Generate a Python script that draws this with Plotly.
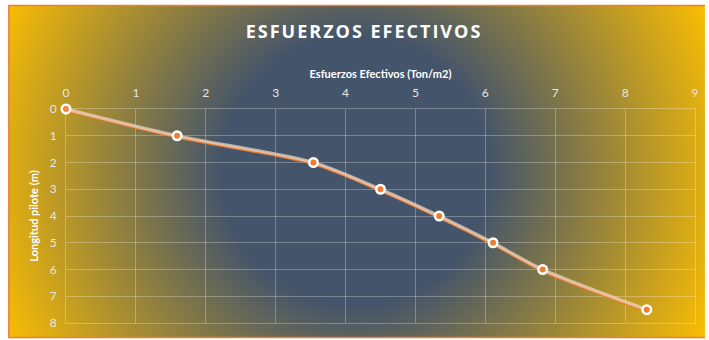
import base64
import plotly.graph_objects as go

# ---- data ----
esfuerzos = [0, 1.59, 3.54, 4.50, 5.34, 6.11, 6.82, 8.31]
profundidad = [0, 1, 2, 3, 4, 5, 6, 7.5]
x_ticks = list(range(0, 10))
y_ticks = list(range(0, 9))

W, H = 709, 340
L, R, T, B = 66, 10, 109, 17
PW, PH = W - L - R, H - T - B

svg = f'''<svg xmlns="http://www.w3.org/2000/svg" width="{W}" height="{H}" viewBox="0 0 {W} {H}">
<defs><radialGradient id="g" gradientUnits="userSpaceOnUse" cx="357" cy="171" r="395">
<stop offset="0" stop-color="#44546A"/><stop offset="0.34" stop-color="#44546A"/>
<stop offset="1" stop-color="#FFC000"/></radialGradient></defs>
<rect x="0" y="0" width="{W}" height="{H}" fill="#ffffff"/>
<rect x="8.5" y="5.5" width="710" height="332" fill="url(#g)" stroke="#ED7D31" stroke-width="1.5"/>
</svg>'''
src = "data:image/svg+xml;base64," + base64.b64encode(svg.encode()).decode()

d = 1.3 / (PH / 8.0)  # shadow offset in data units (~1.3 px)

fig = go.Figure()
# orange shadow line (hidden, slightly shifted axis)
fig.add_trace(go.Scatter(
    x=esfuerzos, y=profundidad, mode="lines", xaxis="x", yaxis="y", cliponaxis=False,
    line=dict(color="rgba(237,125,49,0.9)", width=3, shape="spline", smoothing=0.8),
    hoverinfo="skip", showlegend=False))
# main light line
fig.add_trace(go.Scatter(
    x=esfuerzos, y=profundidad, mode="lines", xaxis="x", yaxis="y2", cliponaxis=False,
    line=dict(color="rgba(235,220,205,0.7)", width=3.2, shape="spline", smoothing=0.8),
    showlegend=False))
# markers
fig.add_trace(go.Scatter(
    x=esfuerzos, y=profundidad, mode="markers", xaxis="x", yaxis="y2", cliponaxis=False,
    marker=dict(color="#ED7D31", size=8.5, line=dict(color="white", width=2.5)),
    showlegend=False))

tickfont = dict(family="Lato, Open Sans, sans-serif", size=12, color="#e6e6e6")
grid = "rgba(255,255,255,0.28)"

fig.update_layout(
    width=W, height=H,
    margin=dict(l=L, r=R, t=T, b=B, pad=0),
    paper_bgcolor="white", plot_bgcolor="rgba(0,0,0,0)",
    images=[dict(source=src, xref="paper", yref="paper",
                 x=-L / PW, y=1 + T / PH, sizex=W / PW, sizey=H / PH,
                 sizing="stretch", xanchor="left", yanchor="top", layer="below")],
    title=dict(text='<span style="letter-spacing:2px"><b>ESFUERZOS EFECTIVOS</b></span>',
               x=364 / W, xanchor="center",
               y=1 - 32 / H, yanchor="middle", yref="container", xref="container",
               font=dict(family="Open Sans, sans-serif", size=18, color="white")),
    xaxis=dict(side="top", range=[0, 9], tickvals=x_ticks, showgrid=True, gridcolor=grid,
               gridwidth=1, zeroline=False, showline=True, mirror=True, linecolor=grid,
               linewidth=1, ticks="outside", ticklen=6,
               tickcolor="rgba(0,0,0,0)", tickfont=tickfont,
               title=dict(text="<b>Esfuerzos Efectivos (Ton/m2)</b>", standoff=4,
                          font=dict(family="Lato, sans-serif", size=11, color="white"))),
    yaxis=dict(range=[8 - d, -d], visible=False, showgrid=False, zeroline=False),
    yaxis2=dict(overlaying="y", side="left", range=[8, 0], tickvals=y_ticks, showgrid=True,
                gridcolor=grid, gridwidth=1, zeroline=False, showline=True, mirror=True,
                linecolor=grid, linewidth=1,
                ticks="outside", ticklen=6, tickcolor="rgba(0,0,0,0)", tickfont=tickfont,
                title=dict(text="<b>Longitud pilote (m)</b>", standoff=8,
                           font=dict(family="Lato, sans-serif", size=11, color="white"))),
)

fig.write_html("out.html")
